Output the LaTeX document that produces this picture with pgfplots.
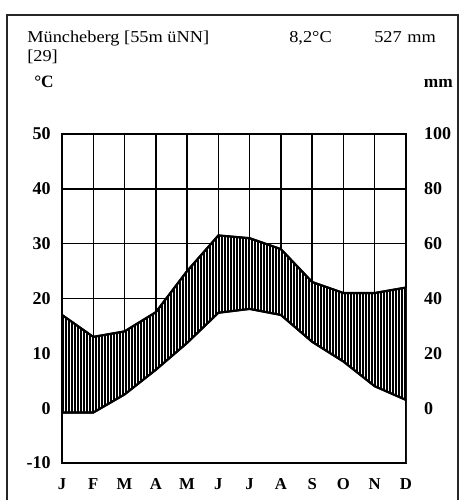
\documentclass[border=0pt]{standalone}
\usepackage{fontspec}
\setmainfont{Liberation Serif}
\usepackage{pgfplots}
\usepackage{pgfplotstable}
\pgfplotsset{compat=1.18}
\usepgfplotslibrary{fillbetween}
\usetikzlibrary{patterns.meta}

% month index, temperature (degC), precipitation (mm)
\pgfplotstableread{
m T P
0 -0.8 34
1 -0.8 26
2 2.5 28
3 7.0 35
4 11.9 50
5 17.4 63
6 18.1 62
7 17.0 58
8 12.1 46
9 8.5 42
10 4.0 42
11 1.5 44
}\climate

\begin{document}
\begin{tikzpicture}
\begin{scope}[x=0.75pt,y=0.75pt,every node/.style={inner sep=0pt}]
\path[use as bounding box] (0,0) rectangle (460,500);
\draw[line width=1.1pt,black!85] (7,0) -- (7,485) -- (458,485) -- (458,0);
\node[anchor=base west,xscale=1.1,font=\fontsize{12.5}{14}\selectfont] at (27,457) {Müncheberg [55m üNN]};
\node[anchor=base west,xscale=1.1,font=\fontsize{12.5}{14}\selectfont] at (27,438) {[29]};
\node[anchor=base west,xscale=1.1,font=\fontsize{12.5}{14}\selectfont] at (289,457) {8,2°C};
\node[anchor=base west,xscale=1.1,font=\fontsize{12.5}{14}\selectfont] at (374,457) {527\hspace{0.3em}mm};
\node[anchor=base west,font=\bfseries\fontsize{13}{15}\selectfont] at (34,412) {°C};
\node[anchor=base east,font=\bfseries\fontsize{13}{15}\selectfont] at (453,412) {mm};
\end{scope}

\begin{axis}[
    at={(46.5pt,27.75pt)}, anchor=south west,
    scale only axis, width=258pt, height=246.75pt,
    xmin=0, xmax=11, ymin=-10, ymax=50,
    xtick={0,...,11},
    xticklabels={J,F,M,A,M,J,J,A,S,O,N,D},
    ytick={-10,0,10,20,30,40,50},
    yticklabels={-10,0,10,20,30,40,50},
    grid=major,
    major grid style={black, line width=1.1pt},
    axis line style={line width=1.3pt},
    major tick length=0pt,
    xticklabel style={font=\bfseries\fontsize{12.5}{14}\selectfont, yshift=-8pt},
    yticklabel style={font=\bfseries\fontsize{13.5}{15}\selectfont, xshift=-5pt},
]
\addplot[draw=none, name path=B] coordinates {(0,-10) (11,-10)};
\addplot[black, line width=1.5pt, name path=T] table[x=m, y=T] {\climate};
\addplot[black, line width=1.5pt, name path=P] table[x=m, y expr=\thisrow{P}/2] {\climate};
\addplot[fill=white, draw=none] fill between[of=T and B];
\addplot[fill=white, draw=none] fill between[of=P and T];
\addplot[draw=none, pattern={Lines[angle=90,distance=2.25pt,line width=1.15pt]}, pattern color=black] fill between[of=P and T];
\addplot[black, line width=1.6pt] table[x=m, y=T] {\climate};
\addplot[black, line width=1.6pt] table[x=m, y expr=\thisrow{P}/2] {\climate};
\draw[line width=1.3pt] (rel axis cs:0,0) rectangle (rel axis cs:1,1);
\end{axis}

\begin{axis}[
    at={(46.5pt,27.75pt)}, anchor=south west,
    scale only axis, width=258pt, height=246.75pt,
    xmin=0, xmax=11, ymin=-20, ymax=100,
    hide x axis,
    axis y line*=right,
    axis line style={draw=none},
    major tick length=0pt,
    ytick={0,20,40,60,80,100},
    yticklabels={0,20,40,60,80,100},
    yticklabel style={font=\bfseries\fontsize{13.5}{15}\selectfont, xshift=10pt},
]
\end{axis}
\end{tikzpicture}
\end{document}
